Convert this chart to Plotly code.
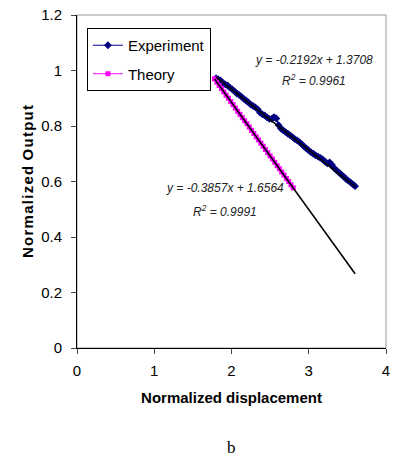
import numpy as np
import plotly.graph_objects as go

# ---- data ----
exp_x = [1.80, 1.83, 1.86, 1.89, 1.92, 1.95, 1.98, 2.01, 2.04, 2.07, 2.10, 2.13, 2.16, 2.19,
         2.22, 2.25, 2.28, 2.31, 2.34, 2.37, 2.40, 2.43, 2.46, 2.49, 2.52, 2.55, 2.58, 2.61,
         2.64, 2.67, 2.70, 2.73, 2.76, 2.79, 2.82, 2.85, 2.88, 2.91, 2.94, 2.97, 3.00, 3.03,
         3.06, 3.09, 3.12, 3.15, 3.18, 3.21, 3.24, 3.27, 3.30, 3.33, 3.36, 3.39, 3.42, 3.45,
         3.48, 3.51, 3.54, 3.57, 3.60]
exp_y = [0.972, 0.968, 0.963, 0.955, 0.950, 0.946, 0.938, 0.932, 0.925, 0.917, 0.912, 0.905,
         0.898, 0.891, 0.885, 0.877, 0.872, 0.867, 0.860, 0.848, 0.842, 0.838, 0.831, 0.826,
         0.826, 0.832, 0.827, 0.803, 0.791, 0.784, 0.778, 0.772, 0.766, 0.760, 0.753, 0.748,
         0.742, 0.734, 0.726, 0.719, 0.712, 0.705, 0.700, 0.694, 0.690, 0.685, 0.680, 0.672,
         0.665, 0.669, 0.660, 0.648, 0.640, 0.633, 0.625, 0.618, 0.610, 0.603, 0.597, 0.590,
         0.583]

th_x = [1.78, 1.81, 1.84, 1.87, 1.90, 1.93, 1.96, 1.99, 2.02, 2.05, 2.08, 2.11, 2.14, 2.17,
        2.20, 2.23, 2.26, 2.29, 2.32, 2.35, 2.38, 2.41, 2.44, 2.47, 2.50, 2.53, 2.56, 2.59,
        2.62, 2.65, 2.68, 2.71, 2.74, 2.77, 2.80]
th_y = [0.970, 0.958, 0.946, 0.935, 0.923, 0.911, 0.900, 0.888, 0.877, 0.865, 0.853, 0.842,
        0.830, 0.819, 0.808, 0.796, 0.784, 0.773, 0.761, 0.750, 0.738, 0.727, 0.715, 0.704,
        0.692, 0.681, 0.669, 0.657, 0.646, 0.634, 0.623, 0.611, 0.600, 0.588, 0.577]

exp_fit = (-0.2192, 1.3708)
th_fit = (-0.3857, 1.6564)
trend_x_end = 3.60

x_ticks = [0, 1, 2, 3, 4]
y_ticks = [0, 0.2, 0.4, 0.6, 0.8, 1, 1.2]

FONT = "Liberation Sans, Arial, sans-serif"

fig = go.Figure()

fig.add_trace(go.Scatter(
    x=exp_x, y=exp_y, mode="lines+markers", name="Experiment", legendgroup="e",
    line=dict(color="#000080", width=1),
    marker=dict(symbol="diamond", size=6, color="#000080"),
))
fig.add_trace(go.Scatter(
    x=th_x, y=th_y, mode="lines+markers", name="Theory", legendgroup="t",
    line=dict(color="#FF00FF", width=1),
    marker=dict(symbol="square", size=5, color="#FF00FF"),
))

# trendlines from fit coefficients
ex = [exp_x[0], exp_x[-1]]
fig.add_trace(go.Scatter(
    x=ex, y=[exp_fit[0] * v + exp_fit[1] for v in ex], mode="lines",
    line=dict(color="black", width=1.6), showlegend=False, hoverinfo="skip"))
tx = [th_x[0], trend_x_end]
fig.add_trace(go.Scatter(
    x=tx, y=[th_fit[0] * v + th_fit[1] for v in tx], mode="lines",
    line=dict(color="black", width=1.6), showlegend=False, hoverinfo="skip"))

ann_font = dict(family=FONT, size=12, color="#222")
annotations = [
    dict(x=3.067, y=1.038, text="<i>y = -0.2192x + 1.3708</i>"),
    dict(x=3.067, y=0.966, text="<i>R<sup>2</sup> = 0.9961</i>"),
    dict(x=1.917, y=0.577, text="<i>y = -0.3857x + 1.6564</i>"),
    dict(x=1.917, y=0.494, text="<i>R<sup>2</sup> = 0.9991</i>"),
]
for a in annotations:
    fig.add_annotation(xref="x", yref="y", showarrow=False, font=ann_font,
                       xanchor="center", yanchor="middle", **a)

fig.add_annotation(xref="paper", yref="paper", x=0.5, y=-0.298, text="b",
                   showarrow=False, font=dict(family="Liberation Serif, Times New Roman, serif",
                                              size=17, color="black"),
                   xanchor="center", yanchor="middle")

# grey frame top/right
fig.add_shape(type="rect", xref="paper", yref="paper", x0=0, y0=0, x1=1, y1=1,
              line=dict(color="#999999", width=1), layer="below")

ytitle = "\u200a".join(list("Normalized")) + " \u200a" + "\u200a".join(list("Output"))

fig.update_layout(
    width=396, height=457,
    margin=dict(l=77, r=6, t=15, b=109),
    paper_bgcolor="white", plot_bgcolor="white",
    font=dict(family=FONT, size=14, color="black"),
    showlegend=True,
    legend=dict(x=0.032, y=0.961, xanchor="left", yanchor="top",
                bgcolor="white", bordercolor="black", borderwidth=1,
                font=dict(family=FONT, size=15, color="black"),
                traceorder="grouped", tracegroupgap=6, itemwidth=30),
    xaxis=dict(range=[0, 4], tickvals=x_ticks, ticks="outside", ticklen=5,
               showline=True, linecolor="black", linewidth=1, showgrid=False,
               zeroline=False, tickfont=dict(size=15), ticklabelstandoff=4,
               title=dict(text="<b>Normalized displacement</b>", font=dict(size=15), standoff=14)),
    yaxis=dict(range=[0, 1.2], tickvals=y_ticks, ticks="outside", ticklen=5,
               showline=True, linecolor="black", linewidth=1, showgrid=False,
               zeroline=False, tickfont=dict(size=15), ticklabelstandoff=6,
               title=dict(text="<b>" + ytitle + "</b>", font=dict(size=15), standoff=3)),
)

fig.write_html("out.html", config={"displayModeBar": False},
               post_script="document.body.style.margin='0';document.body.style.padding='0';")
